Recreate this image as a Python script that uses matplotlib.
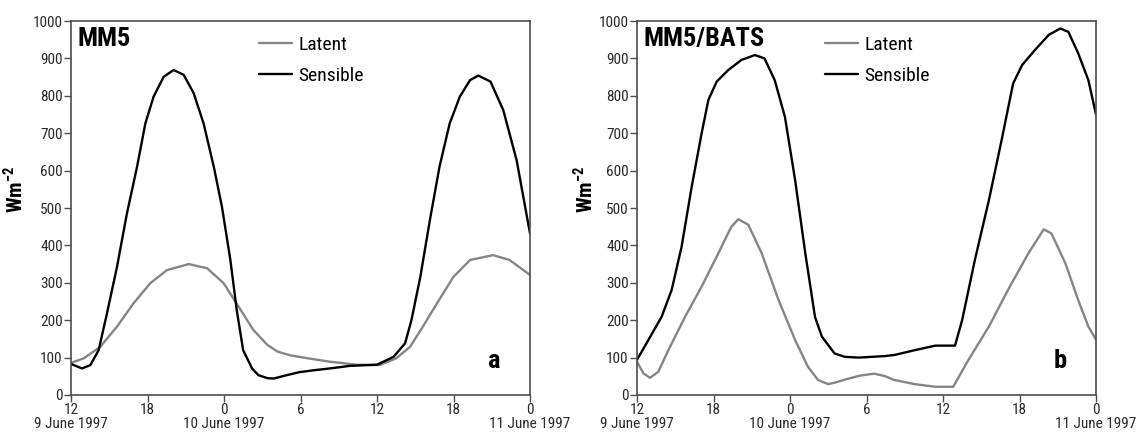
import matplotlib
matplotlib.use("Agg")
import matplotlib.pyplot as plt
from matplotlib import font_manager

# narrow sans if there is one, like the original figure
names = set(f.name for f in font_manager.fontManager.ttflist)
narrow = [n for n in ["Roboto Condensed", "Liberation Sans Narrow", "DejaVu Sans Condensed"] if n in names]
plt.rcParams['font.family'] = narrow + ['DejaVu Sans']

# x axis: hours since 12 UTC 9 June 1997
tick_hours = [0, 6, 12, 18, 24, 30, 36]
tick_labels = ["12\n9 June 1997", "18", "0\n10 June 1997", "6", "12", "18", "0\n11 June 1997"]

# panel a (MM5)
a_sens_h = [0, 0.86, 1.52, 2.17, 2.82, 3.61, 4.39, 5.18, 5.83, 6.48, 7.27, 8.05, 8.84, 9.62, 10.4,
            11.2, 11.84, 12.5, 13.0, 13.5, 14.2, 14.7, 15.4, 15.9, 16.8, 17.9, 19.0, 20.3, 21.9,
            24.0, 25.3, 26.2, 26.7, 27.4, 28.15, 28.9, 29.7, 30.5, 31.3, 31.95, 32.9, 33.9, 34.95, 36]
a_sens = [83, 71, 80, 120, 218, 343, 486, 610, 726, 798, 851, 869, 856, 807, 726,
          610, 503, 361, 227, 120, 71, 53, 45, 44, 52, 61, 66, 71, 78,
          81, 102, 138, 200, 316, 468, 610, 726, 798, 842, 854, 838, 762, 628, 432]
a_lat_h = [0, 1.0, 2.3, 3.61, 4.9, 6.22, 7.53, 9.23, 10.67, 11.97, 13.15, 14.3, 15.4, 16.2, 17.2,
           18.6, 20.3, 22.4, 24.2, 25.5, 26.6, 27.6, 28.7, 30.0, 31.3, 33.1, 34.4, 36]
a_lat = [86, 98, 129, 183, 245, 299, 334, 350, 339, 299, 236, 174, 134, 116, 106,
         98, 89, 81, 80, 98, 129, 183, 245, 316, 361, 374, 361, 321]

# panel b (MM5/BATS)
b_sens_h = [0, 0.89, 1.93, 2.72, 3.5, 4.29, 5.07, 5.6, 6.25, 7.16, 8.2, 9.25, 10.0, 10.8, 11.6,
            12.4, 13.2, 13.96, 14.5, 15.5, 16.3, 17.4, 19.4, 20.2, 21.8, 23.4, 24.94, 25.5, 26.5,
            27.6, 28.6, 29.5, 30.2, 31.2, 32.3, 33.2, 33.83, 34.6, 35.4, 36]
b_sens = [94, 147, 209, 281, 397, 557, 700, 789, 838, 869, 896, 909, 900, 842, 744,
          575, 379, 209, 156, 111, 102, 100, 104, 107, 120, 132, 132, 200, 361,
          521, 682, 833, 882, 922, 963, 980, 971, 914, 842, 750]
b_lat_h = [0, 0.5, 1.02, 1.67, 2.46, 3.77, 5.07, 6.38, 7.4, 7.95, 8.73, 9.78, 11.1, 12.4, 13.4,
           14.2, 15.0, 15.5, 16.5, 17.5, 18.6, 19.4, 20.2, 21.8, 23.4, 24.8, 26.0, 27.6, 29.1,
           30.7, 31.9, 32.5, 33.6, 34.6, 35.4, 36]
b_lat = [89, 58, 46, 62, 120, 209, 290, 379, 450, 470, 455, 379, 254, 147, 76,
         40, 29, 33, 43, 52, 57, 51, 40, 29, 22, 22, 94, 183, 281,
         379, 443, 432, 352, 254, 183, 148]

panels = [
    ("MM5", "a", a_lat_h, a_lat, a_sens_h, a_sens, 71, -0.096),
    ("MM5/BATS", "b", b_lat_h, b_lat, b_sens_h, b_sens, 637, -0.088),
]

fig = plt.figure(figsize=(11.37, 4.36), dpi=100)
W, H = 1137, 436
spine_col = "#4d4d4d"

for title, letter, lh, lv, sh, sv, left_px, ylab_x in panels:
    ax = fig.add_axes([left_px / W, 1 - 395 / H, 459 / W, 374 / H])
    ax.plot(lh, lv, color="#858585", lw=1.7, label="Latent",
            solid_joinstyle="round", solid_capstyle="round")
    ax.plot(sh, sv, color="black", lw=1.7, label="Sensible",
            solid_joinstyle="round", solid_capstyle="round")
    ax.set_xlim(0, 36)
    ax.set_ylim(0, 1000)
    ax.set_yticks(range(0, 1001, 100))
    ax.set_xticks(tick_hours)
    ax.set_xticklabels(tick_labels, linespacing=1.0)
    ax.tick_params(direction="out", length=5, width=1, colors=spine_col, labelsize=11,
                   labelcolor="#2a2a2a", pad=1)
    for s in ax.spines.values():
        s.set_color(spine_col)
        s.set_linewidth(1.2)
    ax.set_ylabel("Wm$^{\\mathregular{-2}}$", fontsize=15, fontweight="bold")
    ax.yaxis.set_label_coords(ylab_x, 0.55)
    ax.text(0.015, 0.985, title, transform=ax.transAxes, fontsize=19, fontweight="bold",
            va="top", ha="left")
    ax.text(0.923, 0.06, letter, transform=ax.transAxes, fontsize=19, fontweight="bold",
            va="bottom", ha="center")
    ax.legend(loc="upper left", bbox_to_anchor=(0.41, 0.96), frameon=False, fontsize=14,
              handlelength=1.7, handletextpad=0.3, labelspacing=0.66,
              borderaxespad=0, borderpad=0)

fig.savefig("out.png", dpi=100)
